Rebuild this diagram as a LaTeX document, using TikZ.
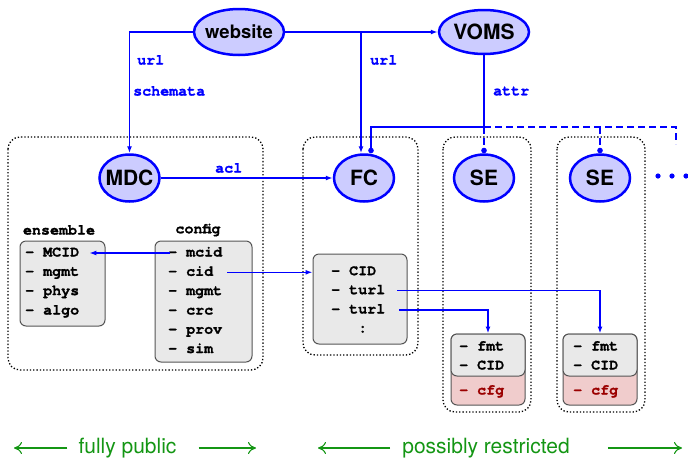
\documentclass[tikz,border=0pt]{standalone}
\usepackage{fontspec}
\setsansfont{TeX Gyre Heros}
\newfontfamily\courfont[BoldFeatures={FakeBold=1.2}]{TeX Gyre Cursor}
\usepackage{tikz}
\usetikzlibrary{shapes.geometric,arrows.meta}
\definecolor{ovalfill}{RGB}{204,204,255}
\definecolor{listgrey}{RGB}{233,233,233}
\definecolor{listedge}{RGB}{85,85,85}
\definecolor{cfgpink}{RGB}{240,204,204}
\definecolor{cfgred}{RGB}{155,0,0}
\definecolor{reachgreen}{RGB}{20,150,20}
\newcommand{\ovaltext}[1]{\makebox[0pt]{#1}}

\tikzset{
  oval/.style={ellipse, draw=blue, line width=2.5pt, fill=ovalfill, inner sep=0pt,
    minimum width=60pt, minimum height=47pt, font=\sffamily\bfseries\fontsize{21}{25}\selectfont},
  zonebox/.style={draw, dotted, line width=1.3pt, rounded corners=12pt},
  listbox/.style={draw=listedge, line width=1pt, fill=listgrey, rounded corners=6pt, inner sep=0pt},
  item/.style={anchor=west, inner xsep=8pt, inner ysep=0pt, text height=10pt, text depth=3pt,
    font=\courfont\bfseries\fontsize{15}{18}\selectfont},
  boxtitle/.style={font=\courfont\bfseries\fontsize{15}{18}\selectfont},
  tag/.style={anchor=west, inner sep=0pt, text=blue, font=\courfont\bfseries\fontsize{15}{18}\selectfont},
  flow/.style={draw=blue, line width=1.4pt, -{Latex[length=7pt,width=5pt]}},
  bus/.style={draw=blue, line width=1.4pt, -{Circle[length=5.5pt]}},
  reach/.style={text=reachgreen, font=\sffamily\fontsize{21}{25}\selectfont},
  spread/.style={draw=reachgreen, line width=1.1pt, -{Computer Modern Rightarrow[length=8pt,width=12pt]}}
}

\begin{document}
\begin{tikzpicture}[x=1pt,y=-1pt]
  \useasboundingbox (0,0) rectangle (688,459);

  \draw[zonebox] (8,137) rectangle (263,370);
  \draw[zonebox] (303,137) rectangle (418,355);
  \draw[zonebox] (443,137) rectangle (531,412);
  \draw[zonebox] (557,137) rectangle (645,412);

  \node[oval, minimum width=90pt, minimum height=46pt, font=\sffamily\bfseries\fontsize{18.5}{22}\selectfont] (web) at (239,32) {\ovaltext{website}};
  \node[oval, minimum width=90pt, minimum height=44pt] (voms) at (484,32) {\ovaltext{VOMS}};
  \node[oval] (mdc) at (129.5,178) {\ovaltext{MDC}};
  \node[oval] (fc) at (364,178) {\ovaltext{FC}};
  \node[oval] (se1) at (484,178) {\ovaltext{SE}};
  \node[oval] (se2) at (600,178) {\ovaltext{SE}};
  \fill[blue] (658,176) circle (2.6) (672,176) circle (2.6) (686,176) circle (2.6);

  \node[tag] (urla) at (137,60) {url};
  \node[tag] (schem) at (133,91) {schemata};
  \node[tag] (urlb) at (370,60) {url};
  \node[tag] (attr) at (493,91) {attr};
  \node[tag] (acl) at (215,168) {acl};

  \coordinate (fork) at (361,32);
  \coordinate (hub) at (484,127);
  \coordinate (busend) at (676,144);
  \draw[flow] (web.west) -| (mdc.north);
  \draw[flow] (web.east) -- (voms.west);
  \draw[flow] (fork) -- (fork |- fc.north);
  \draw[flow] (mdc) -- (fc);
  \draw[bus] (voms.south) -- (hub) -| ([xshift=7pt]fc.north);
  \draw[bus, dash pattern=on 7pt off 4pt] (hub) -- (se1.north);
  \draw[bus, dash pattern=on 7pt off 4pt] (se2.north |- hub) -- (se2.north);
  \draw[draw=blue, line width=1.4pt, dash pattern=on 7pt off 4pt] (hub) -| (busend);

  \node[boxtitle] (enstitle) at (59,230) {ensemble};
  \node[boxtitle] (cfgtitle) at (198,230) {config};
  \node[listbox, minimum width=85pt, minimum height=85pt] (ensbox) at (62.5,283.5) {};
  \node[listbox, minimum width=97pt, minimum height=121pt] (cfgbox) at (203.5,301.5) {};
  \node[listbox, minimum width=94pt, minimum height=90pt] (fcbox) at (360,299) {};
  \node[listbox, fill=cfgpink, minimum width=74pt, minimum height=71pt] (se1low) at (488,369.5) {};
  \node[listbox, minimum width=74pt, minimum height=42pt] (se1top) at (488,355) {};
  \node[listbox, fill=cfgpink, minimum width=74pt, minimum height=71pt] (se2low) at (600,369.5) {};
  \node[listbox, minimum width=74pt, minimum height=42pt] (se2top) at (600,355) {};

  \node[item] (ens1) at (17,253) {– MCID};
  \node[item] (ens2) at (17,272.3) {– mgmt};
  \node[item] (ens3) at (17,291.6) {– phys};
  \node[item] (ens4) at (17,311) {– algo};

  \node[item] (cfg1) at (160,253) {– mcid};
  \node[item] (cfg2) at (160,272.3) {– cid};
  \node[item] (cfg3) at (160,291.6) {– mgmt};
  \node[item] (cfg4) at (160,311) {– crc};
  \node[item] (cfg5) at (160,330.2) {– prov};
  \node[item] (cfg6) at (160,349.5) {– sim};

  \node[item] (fc1) at (323,271.7) {– CID};
  \node[item] (fc2) at (323,290.7) {– turl};
  \node[item] (fc3) at (323,310) {– turl};
  \node[item] (fc4) at (323,329) {\hphantom{– t}:};

  \node[item] (se1a) at (451,347) {– fmt};
  \node[item] (se1b) at (451,366) {– CID};
  \node[item, text=cfgred] (se1c) at (451,391) {– cfg};
  \node[item] (se2a) at (565,347) {– fmt};
  \node[item] (se2b) at (565,366) {– CID};
  \node[item, text=cfgred] (se2c) at (565,391) {– cfg};

  \draw[flow] ([xshift=10pt]cfg1.west) -- ([xshift=2pt]ens1.east);
  \draw[flow] ([xshift=6pt]cfg2.east) -- (fcbox.west |- cfg2.east);
  \draw[flow] ([xshift=4pt]fc2.east) -| (se2top.north);
  \draw[flow] ([xshift=6pt]fc3.east) -| (se1top.north);

  \node[reach, inner xsep=11pt] (pub) at (127.5,448) {fully public};
  \node[reach, inner xsep=12pt] (restr) at (486,448) {possibly restricted};
  \coordinate (publeft) at (14,448);
  \coordinate (pubright) at (256,448);
  \coordinate (restrleft) at (318,448);
  \coordinate (restrright) at (682,448);
  \draw[spread] (pub.west) -- (publeft);
  \draw[spread] ([xshift=11pt]pub.east) -- (pubright);
  \draw[spread] (restr.west) -- (restrleft);
  \draw[spread] ([xshift=26pt]restr.east) -- (restrright);
\end{tikzpicture}
\end{document}
